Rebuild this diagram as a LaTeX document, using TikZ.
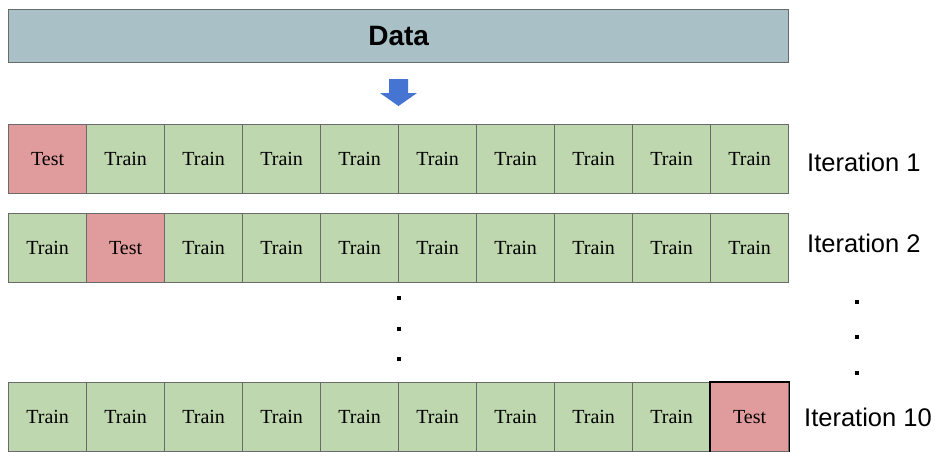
\documentclass[tikz,border=0pt]{standalone}
\usepackage{fontspec}
\setmainfont{Liberation Serif}
\newfontfamily\arialfont{Liberation Sans}
\definecolor{datafill}{HTML}{A8C0C6}
\definecolor{trainfill}{HTML}{BED7AE}
\definecolor{testfill}{HTML}{E09C9C}
\definecolor{cellborder}{HTML}{6A6A6A}
\definecolor{arrowblue}{HTML}{4674D2}
\tikzset{
  cellbox/.style={draw=cellborder, line width=1.3pt, minimum width=78pt, minimum height=69pt, inner sep=0pt, anchor=north west, font=\fontsize{20}{20}\selectfont},
  trainbox/.style={cellbox, fill=trainfill},
  testbox/.style={cellbox, fill=testfill},
  itlabel/.style={font=\arialfont\fontsize{25.5}{25.5}\selectfont, anchor=west, inner sep=0pt},
  dotmark/.style={fill=black, minimum size=4pt, inner sep=0pt, draw=none}
}
\begin{document}
\begin{tikzpicture}[x=1pt,y=-1pt]
\useasboundingbox (0,0) rectangle (935,451);
\node[draw=cellborder, line width=1.3pt, fill=datafill, minimum width=780pt, minimum height=53pt, inner sep=0pt, anchor=north west, font=\arialfont\bfseries\fontsize{28}{28}\selectfont] (data) at (8,9) {Data};
% arrow
\fill[arrowblue] (389,79) -- (408,79) -- (408,93) -- (417,93) -- (398.5,106) -- (380,93) -- (389,93) -- cycle;
% rows
\foreach \r/\y/\t in {1/124/1, 2/213/2, 3/382/10}{
  \foreach \c in {1,...,10}{
    \pgfmathtruncatemacro{\xx}{8+78*(\c-1)}
    \ifnum\c=\t
      \node[testbox] (r\r c\c) at (\xx,\y) {Test};
    \else
      \node[trainbox] (r\r c\c) at (\xx,\y) {Train};
    \fi
  }
}
\draw[black, line width=1.3pt] (r3c10.north west) rectangle (r3c10.south east);
\node[itlabel] (it1) at (807,162) {Iteration 1};
\node[itlabel] (it2) at (807,243) {Iteration 2};
\node[itlabel] (it10) at (804,417) {Iteration 10};
% dots
\foreach \y [count=\i] in {298,329,359}{\node[dotmark] (md\i) at (399,\y) {};}
\foreach \y [count=\i] in {302,337,373}{\node[dotmark] (rd\i) at (857,\y) {};}
\end{tikzpicture}
\end{document}
